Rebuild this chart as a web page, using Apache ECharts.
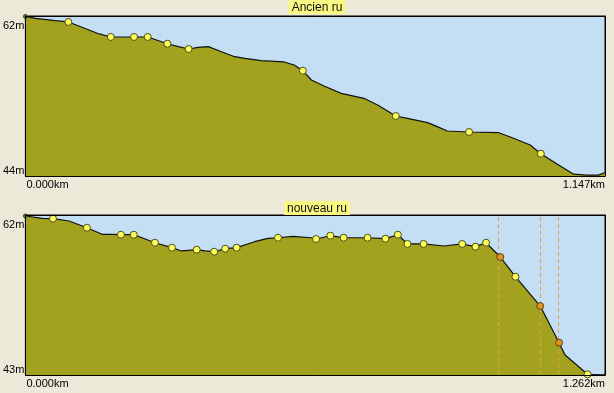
<!DOCTYPE html>
<html><head><meta charset="utf-8">
<script src="https://cdn.jsdelivr.net/npm/echarts@6/dist/echarts.min.js"></script>
<style>html,body{margin:0;padding:0;background:#ece9d8}#c{width:614px;height:393px}</style>
</head><body><div id="c"></div><script>
const titles = ['Ancien ru', 'nouveau ru'];

const topKm = [0.000,0.020,0.059,0.085,0.112,0.146,0.169,0.215,0.242,0.281,0.303,0.323,0.342,0.362,0.388,0.414,0.434,0.467,0.512,0.532,0.549,0.566,0.591,0.625,0.670,0.697,0.733,0.756,0.796,0.815,0.835,0.878,0.937,0.966,0.999,1.020,1.052,1.085,1.111,1.134,1.147];
const topElev = [61.95,61.74,61.47,61.33,60.73,59.98,59.64,59.64,59.64,58.88,58.55,58.29,58.48,58.55,57.98,57.42,57.24,56.97,56.83,56.49,55.85,54.80,54.13,53.30,52.74,51.99,50.75,50.49,50.00,49.55,49.06,48.95,48.87,48.24,47.49,46.51,45.35,44.20,44.10,44.10,44.40];
const topMarkerIdx = [3,6,7,8,9,11,20,26,31,35];
const topXTicks = [0, 1.147];
const topYTicks = [44, 62];

const botKm = [0.000,0.037,0.060,0.095,0.134,0.167,0.189,0.208,0.236,0.254,0.282,0.319,0.340,0.355,0.373,0.391,0.411,0.435,0.460,0.499,0.528,0.550,0.583,0.622,0.633,0.664,0.693,0.745,0.784,0.811,0.832,0.867,0.911,0.951,0.980,1.003,1.034,1.067,1.121,1.162,1.175,1.224,1.262];
const botElev = [61.88,61.61,61.56,61.29,60.49,59.71,59.71,59.66,59.66,59.30,58.71,58.12,57.73,57.81,57.88,57.73,57.64,58.00,58.12,58.83,59.23,59.30,59.47,59.30,59.15,59.54,59.30,59.30,59.19,59.66,58.56,58.56,58.32,58.56,58.24,58.71,57.01,54.67,51.19,46.84,45.38,43.08,43.00];
const botMarkerIdx = [2,4,7,8,10,11,14,16,17,18,21,24,25,26,27,28,29,30,31,33,34,35,37,41];
const botWaypointIdx = [36,38,39];
const botXTicks = [0, 1.262];
const botYTicks = [43, 62];

const SKY = '#c4dff4', OLIVE = '#a3a21e', BG = '#ece9d8';
const FONT = 'Liberation Sans';

const pairs = (xs, ys) => xs.map((x, i) => [x, ys[i]]);
const pick = (xs, ys, idx) => idx.map(i => [xs[i], ys[i]]);

const gridTops = [16, 215];
const grids = gridTops.map(t => ({left: 23, top: t, width: 582, height: 160, show: true,
  backgroundColor: SKY, borderColor: '#000', borderWidth: 1}));

function xAxes(g, ticks) {
  return [
    {type: 'value', gridIndex: g, position: 'bottom', min: ticks[0], max: ticks[1], z: 10,
     axisLine: {show: true, onZero: false, lineStyle: {color: '#000', width: 1}},
     axisTick: {show: false}, splitLine: {show: false},
     axisLabel: {customValues: ticks, formatter: v => v.toFixed(3) + 'km', margin: 3,
       alignMinLabel: 'left', alignMaxLabel: 'right', color: '#000', fontFamily: FONT, fontSize: 11,
       padding: [0, 0, 0, 1]}},
    {type: 'value', gridIndex: g, position: 'top', min: ticks[0], max: ticks[1], z: 10,
     axisLine: {show: true, onZero: false, lineStyle: {color: '#000', width: 1}},
     axisTick: {show: false}, splitLine: {show: false}, axisLabel: {show: false}}
  ];
}
function yAxes(g, ticks) {
  return [
    {type: 'value', gridIndex: g, position: 'left', min: ticks[0], max: ticks[1], z: 10,
     axisLine: {show: true, onZero: false, lineStyle: {color: '#000', width: 1}},
     axisTick: {show: false}, splitLine: {show: false},
     axisLabel: {customValues: ticks, formatter: v => v + 'm', margin: 1,
       verticalAlignMinLabel: 'bottom', verticalAlignMaxLabel: 'top',
       padding: [4, 0, 0, 0],
       color: '#000', fontFamily: FONT, fontSize: 11}},
    {type: 'value', gridIndex: g, position: 'right', min: ticks[0], max: ticks[1], z: 10,
     axisLine: {show: true, onZero: false, lineStyle: {color: '#000', width: 1}},
     axisTick: {show: false}, splitLine: {show: false}, axisLabel: {show: false}}
  ];
}

function profile(xi, yi, data, extra) {
  return Object.assign({type: 'line', xAxisIndex: xi, yAxisIndex: yi, data, symbol: 'none',
    smooth: false, z: 2,
    lineStyle: {color: '#111', width: 1.2},
    areaStyle: {color: OLIVE, opacity: 1, origin: 'start'}}, extra || {});
}
function dots(xi, yi, data, color, size) {
  return {type: 'scatter', xAxisIndex: xi, yAxisIndex: yi, data, symbol: 'circle',
    symbolSize: size, z: 5,
    itemStyle: {color, borderColor: '#4a4a20', borderWidth: 1, opacity: 1}};
}

const option = {
  backgroundColor: BG,
  animation: false,
  title: titles.map((t, i) => ({text: t, left: 314, textAlign: 'center', top: i === 0 ? 0 : 201,
    backgroundColor: '#f8f882', padding: [1, 3, 0, 3],
    textStyle: {fontFamily: FONT, fontSize: 12, fontWeight: 'normal', color: '#111', lineHeight: 13}})),
  grid: grids,
  xAxis: [...xAxes(0, topXTicks), ...xAxes(1, botXTicks)],
  yAxis: [...yAxes(0, topYTicks), ...yAxes(1, botYTicks)],
  series: [
    profile(0, 0, pairs(topKm, topElev)),
    dots(0, 0, pick(topKm, topElev, topMarkerIdx), '#ffff5a', 7),
    dots(0, 0, pick(topKm, topElev, [0]), '#3a9a3a', 4),
    profile(2, 2, pairs(botKm, botElev), {
      markLine: {silent: true, symbol: ['none', 'none'], label: {show: false},
        lineStyle: {type: [4, 3], color: '#e0a050', width: 1},
        data: botWaypointIdx.map(i => ({xAxis: botKm[i]}))}
    }),
    dots(2, 2, pick(botKm, botElev, botMarkerIdx), '#ffff5a', 7),
    dots(2, 2, pick(botKm, botElev, botWaypointIdx), '#e8901e', 7),
    dots(2, 2, pick(botKm, botElev, [0]), '#3a9a3a', 4)
  ]
};
const chart = echarts.init(document.getElementById('c'), null, {renderer: 'canvas'});
chart.setOption(option);
</script></body></html>
